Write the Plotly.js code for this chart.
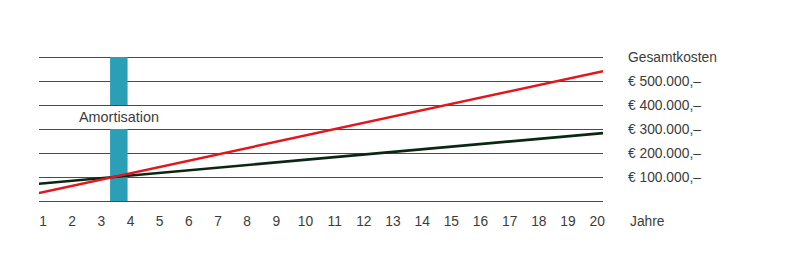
<!DOCTYPE html>
<html>
<head>
<meta charset="utf-8">
<script src="https://cdn.plot.ly/plotly-3.0.1.min.js"></script>
<style>html,body{margin:0;padding:0;background:#fff;}#chart{width:800px;height:259px;}</style>
</head>
<body>
<div id="chart"></div>
<script>
// Years (x axis)
const yearTicks = [1,2,3,4,5,6,7,8,9,10,11,12,13,14,15,16,17,18,19,20];
// Line end points (years at the chart edges)
const lineYears = [0.86, 20.2];
// Total costs, red series (EUR)
const costRed = [33000, 541000];
// Total costs, dark series (EUR)
const costDark = [72000, 283000];
// Payback (Amortisation) band: year, segment bases and heights
const paybackYear = [3.6, 3.6];
const paybackBase = [0, 400000];
const paybackHeight = [300000, 200000];
const paybackLabel = 'Amortisation';
// Y ticks
const costTickVals = [0, 100000, 200000, 300000, 400000, 500000, 600000];
const costTickText = ['', '€ 100.000,–', '€ 200.000,–', '€ 300.000,–', '€ 400.000,–', '€ 500.000,–', 'Gesamtkosten'];
const xTitle = 'Jahre';

const font = {family: 'Liberation Sans, Arial, sans-serif', size: 13.8, color: '#3c3c3c'};

const traces = [
  {type: 'bar', x: paybackYear, y: paybackHeight, base: paybackBase, width: 0.6,
   marker: {color: '#2a9fb6', line: {width: 0}}, hoverinfo: 'skip', showlegend: false},
  {type: 'scatter', mode: 'lines', x: lineYears, y: costDark,
   line: {color: '#0b2613', width: 2.6}, showlegend: false},
  {type: 'scatter', mode: 'lines', x: lineYears, y: costRed,
   line: {color: '#e2161c', width: 2.4}, showlegend: false}
];

const layout = {
  width: 800, height: 259,
  margin: {l: 39, r: 197, t: 55, b: 56, pad: 0},
  paper_bgcolor: '#fff', plot_bgcolor: '#fff',
  font: font,
  showlegend: false,
  xaxis: {
    range: [0.863, 20.2], tickvals: yearTicks, ticktext: yearTicks.map(String),
    showgrid: false, zeroline: false, showline: false, ticks: '',
    ticklabelstandoff: 8, fixedrange: true
  },
  yaxis: {
    side: 'right', range: [-8333, 608333], tickvals: costTickVals, ticktext: costTickText,
    showgrid: true, gridcolor: '#4a4a4a', gridwidth: 1, zeroline: false, showline: false,
    ticks: '', ticklabelstandoff: 24, fixedrange: true
  },
  annotations: [
    {x: 3.6, y: 350000, xref: 'x', yref: 'y', text: paybackLabel, showarrow: false,
     font: {family: font.family, size: 14.4, color: '#3c3c3c'}, xanchor: 'center', yanchor: 'middle'},
    {x: 1, xref: 'paper', xshift: 25, y: 0, yref: 'paper', yshift: -18, text: xTitle, showarrow: false,
     xanchor: 'left', yanchor: 'middle', font: font}
  ]
};

Plotly.newPlot('chart', traces, layout, {displayModeBar: false, staticPlot: true});
</script>
</body>
</html>
